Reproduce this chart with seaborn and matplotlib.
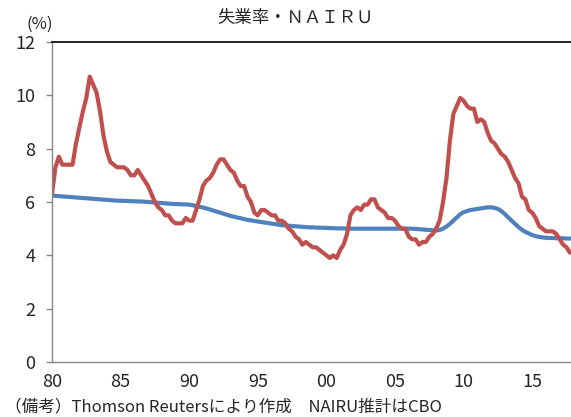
import numpy as np
import pandas as pd
import matplotlib
matplotlib.use("Agg")
import matplotlib.pyplot as plt
import seaborn as sns

# quarterly data, 1980Q1 - 2017Q4
unemployment = [
    6.3, 7.3, 7.7, 7.4,   # 80
    7.4, 7.4, 7.4, 8.2,
    8.8, 9.4, 9.9, 10.7,
    10.4, 10.1, 9.4, 8.5,
    7.9, 7.5, 7.4, 7.3,
    7.3, 7.3, 7.2, 7.0,   # 85
    7.0, 7.2, 7.0, 6.8,
    6.6, 6.3, 6.0, 5.8,
    5.7, 5.5, 5.5, 5.3,
    5.2, 5.2, 5.2, 5.4,
    5.3, 5.3, 5.7, 6.1,   # 90
    6.6, 6.8, 6.9, 7.1,
    7.4, 7.6, 7.6, 7.4,
    7.2, 7.1, 6.8, 6.6,
    6.6, 6.2, 6.0, 5.6,
    5.5, 5.7, 5.7, 5.6,   # 95
    5.5, 5.5, 5.3, 5.3,
    5.2, 5.0, 4.9, 4.7,
    4.6, 4.4, 4.5, 4.4,
    4.3, 4.3, 4.2, 4.1,
    4.0, 3.9, 4.0, 3.9,   # 00
    4.2, 4.4, 4.8, 5.5,
    5.7, 5.8, 5.7, 5.9,
    5.9, 6.1, 6.1, 5.8,
    5.7, 5.6, 5.4, 5.4,
    5.3, 5.1, 5.0, 5.0,   # 05
    4.7, 4.6, 4.6, 4.4,
    4.5, 4.5, 4.7, 4.8,
    5.0, 5.3, 6.0, 6.9,
    8.3, 9.3, 9.6, 9.9,
    9.8, 9.6, 9.5, 9.5,   # 10
    9.0, 9.1, 9.0, 8.6,
    8.3, 8.2, 8.0, 7.8,
    7.7, 7.5, 7.2, 6.9,
    6.7, 6.2, 6.1, 5.7,
    5.6, 5.4, 5.1, 5.0,   # 15
    4.9, 4.9, 4.9, 4.8,
    4.6, 4.4, 4.3, 4.1,
]

nairu = [
    6.24, 6.23, 6.22, 6.21,   # 80
    6.20, 6.19, 6.18, 6.17,
    6.16, 6.15, 6.14, 6.13,
    6.12, 6.11, 6.10, 6.09,
    6.08, 6.07, 6.06, 6.05,
    6.05, 6.04, 6.04, 6.03,   # 85
    6.03, 6.02, 6.02, 6.01,
    6.00, 5.99, 5.98, 5.97,
    5.96, 5.95, 5.94, 5.93,
    5.92, 5.92, 5.91, 5.91,
    5.90, 5.88, 5.85, 5.82,   # 90
    5.79, 5.76, 5.72, 5.68,
    5.64, 5.60, 5.56, 5.52,
    5.48, 5.45, 5.42, 5.39,
    5.36, 5.33, 5.31, 5.29,
    5.27, 5.25, 5.23, 5.21,   # 95
    5.19, 5.17, 5.15, 5.13,
    5.12, 5.11, 5.10, 5.09,
    5.08, 5.07, 5.06, 5.05,
    5.05, 5.04, 5.04, 5.03,
    5.03, 5.02, 5.02, 5.01,   # 00
    5.01, 5.01, 5.00, 5.00,
    5.00, 5.00, 5.00, 5.00,
    5.00, 5.00, 5.00, 5.00,
    5.00, 5.00, 5.00, 5.00,
    5.00, 5.00, 5.00, 5.00,   # 05
    5.00, 5.00, 4.99, 4.98,
    4.97, 4.96, 4.95, 4.94,
    4.93, 4.95, 5.00, 5.08,
    5.18, 5.30, 5.42, 5.54,
    5.62, 5.66, 5.70, 5.72,   # 10
    5.74, 5.76, 5.78, 5.80,
    5.80, 5.78, 5.74, 5.66,
    5.55, 5.42, 5.30, 5.18,
    5.06, 4.96, 4.88, 4.82,
    4.76, 4.72, 4.69, 4.67,   # 15
    4.66, 4.65, 4.65, 4.64,
    4.64, 4.64, 4.63, 4.63,
]

tick_labels = ["80", "85", "90", "95", "00", "05", "10", "15"]

df = pd.DataFrame({
    "q": np.arange(len(unemployment)),
    "unemployment": unemployment,
    "nairu": nairu,
})

sns.set_style("white")
plt.rcParams["font.family"] = ["Noto Sans CJK JP", "DejaVu Sans"]

fig = plt.figure(figsize=(5.71, 4.17), dpi=100)
ax = fig.add_axes([52 / 571, 55 / 417, 519 / 571, 320 / 417])

sns.lineplot(data=df, x="q", y="nairu", color="#4F81BD", linewidth=3, ax=ax)
sns.lineplot(data=df, x="q", y="unemployment", color="#C0504D", linewidth=3, ax=ax)

ax.set_xlim(0, len(unemployment) - 1 + 0.3)
ax.set_ylim(0, 12)
ax.set_yticks(range(0, 13, 2))
ax.set_xticks(np.arange(len(tick_labels)) * 20)
ax.set_xticklabels(tick_labels)
ax.set_xlabel("")
ax.set_ylabel("")

ax.tick_params(axis="y", left=True, length=4, width=1, color="#868686",
               labelsize=13, pad=8)
ax.tick_params(axis="x", bottom=False, length=0, labelsize=13, pad=8)

for s in ["left", "bottom"]:
    ax.spines[s].set_color("#868686")
    ax.spines[s].set_linewidth(1)
ax.spines["top"].set_color("black")
ax.spines["top"].set_linewidth(1.2)
ax.spines["right"].set_visible(False)

fig.text(295 / 571, 1 - 18 / 417, "失業率・ＮＡＩＲＵ", ha="center", va="center", fontsize=12.5)
fig.text(27 / 571, 1 - 24 / 417, "(%)", ha="left", va="center", fontsize=12)
fig.text(5 / 571, 1 - 407 / 417, "（備考）Thomson Reutersにより作成　NAIRU推計はCBO",
         ha="left", va="center", fontsize=12)

fig.savefig("out.png", dpi=100)
